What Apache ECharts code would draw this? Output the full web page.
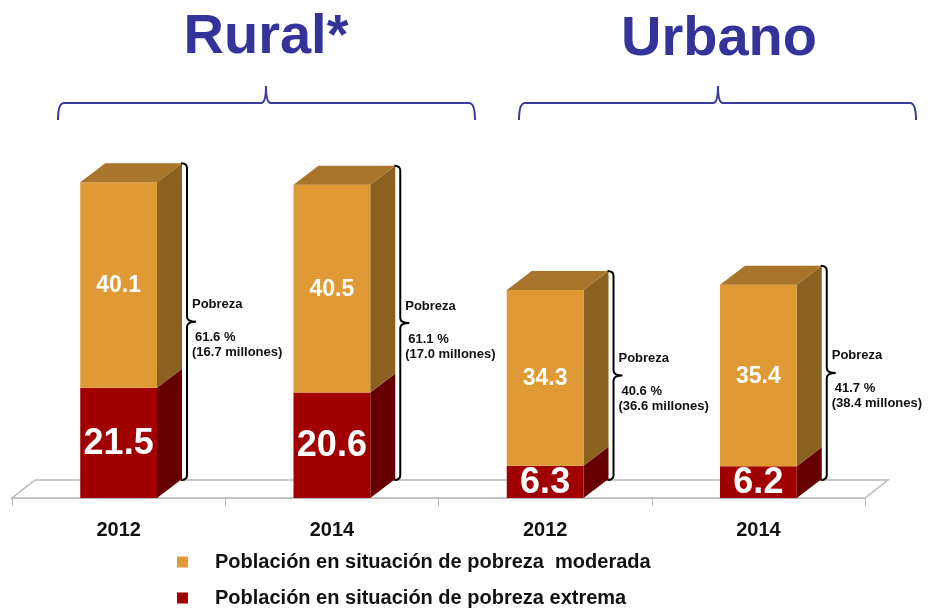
<!DOCTYPE html>
<html>
<head>
<meta charset="utf-8">
<script src="https://cdn.jsdelivr.net/npm/echarts@6/dist/echarts.min.js"></script>
<style>
  html, body { margin: 0; padding: 0; background: #fff; }
  #chart { width: 935px; height: 610px; }
</style>
</head>
<body>
<div id="chart"></div>
<script>
// data
const categories = ['2012', '2014', '2012', '2014'];
const extrema = [21.5, 20.6, 6.3, 6.2];
const moderada = [40.1, 40.5, 34.3, 35.4];
const pobrezaPct = [61.6, 61.1, 40.6, 41.7];
const millones = ['16.7', '17.0', '36.6', '38.4'];
const groupNames = ['Rural*', 'Urbano'];
const seriesNames = ['Población en situación de pobreza  moderada', 'Población en situación de pobreza extrema'];

const FONT = '"Liberation Sans", Arial, sans-serif';
const DX = 25, DY = -19; // fake 3d depth
const BAR = 0.36;

const orange = { front: '#E09A35', side: '#8B6122', top: '#A8752B' };
const red = { front: '#A00000', side: '#660000', top: '#800000' };

// one box segment of the stacked 3d column
function boxRenderer(colors, showTop, fontSize) {
    return function (params, api) {
        const i = api.value(0);
        const p0 = api.coord([i, api.value(1)]);
        const p1 = api.coord([i, api.value(2)]);
        const w = api.size([1, 0])[0] * BAR;
        const x0 = p0[0] - w / 2, x1 = p0[0] + w / 2;
        const yb = p0[1], yt = p1[1];
        const children = [
            { type: 'polygon', shape: { points: [[x1, yb], [x1 + DX, yb + DY], [x1 + DX, yt + DY], [x1, yt]] },
              style: { fill: colors.side } },
            { type: 'rect', shape: { x: x0, y: yt, width: w, height: yb - yt }, style: { fill: colors.front } }
        ];
        if (showTop) {
            children.push({ type: 'polygon', shape: { points: [[x0, yt], [x1, yt], [x1 + DX, yt + DY], [x0 + DX, yt + DY]] },
                style: { fill: colors.top } });
        }
        children.push({ type: 'text', style: {
            text: api.value(3).toFixed(1), x: p0[0], y: (yb + yt) / 2 + 1,
            align: 'center', verticalAlign: 'middle', fill: '#fff',
            fontSize: fontSize, fontWeight: 'bold', fontFamily: FONT } });
        return { type: 'group', children: children };
    };
}

// right-side curly bracket with the poverty total
function bracketRenderer(params, api) {
    const i = api.value(0);
    const base = api.coord([i, 0]);
    const top = api.coord([i, api.value(1)]);
    const w = api.size([1, 0])[0] * BAR;
    const x0 = base[0] + w / 2 + DX - 1;
    const yT = top[1] + DY, yB = base[1] - 18;
    const ym = (yT + yB) / 2;
    const xv = x0 + 6;
    const path = 'M' + x0 + ',' + yT + ' Q' + xv + ',' + yT + ' ' + xv + ',' + (yT + 5) +
        ' L' + xv + ',' + (ym - 5) + ' Q' + xv + ',' + ym + ' ' + (x0 + 15) + ',' + ym +
        ' Q' + xv + ',' + ym + ' ' + xv + ',' + (ym + 5) +
        ' L' + xv + ',' + (yB - 5) + ' Q' + xv + ',' + yB + ' ' + x0 + ',' + yB;
    const txt = (t, x, y) => ({ type: 'text', style: { text: t, x: x, y: y, align: 'left', verticalAlign: 'middle',
        fill: '#111', fontSize: 13, fontWeight: 'bold', fontFamily: FONT } });
    return { type: 'group', children: [
        { type: 'path', shape: { pathData: path }, style: { fill: 'none', stroke: '#000', lineWidth: 2 } },
        txt('Pobreza', x0 + 11, ym - 17),
        txt(pobrezaPct[i].toFixed(1) + ' %', x0 + 14, ym + 16),
        txt('(' + millones[i] + ' millones)', x0 + 11, ym + 31)
    ] };
}

function brace(x1, x2, xc, y) {
    return 'M' + x1 + ',' + (y + 17) + ' Q' + x1 + ',' + y + ' ' + (x1 + 6) + ',' + y +
        ' L' + (xc - 5) + ',' + y + ' Q' + xc + ',' + y + ' ' + xc + ',' + (y - 17) +
        ' Q' + xc + ',' + y + ' ' + (xc + 5) + ',' + y +
        ' L' + (x2 - 6) + ',' + y + ' Q' + x2 + ',' + y + ' ' + x2 + ',' + (y + 17);
}

// floor plane under the columns plus the group braces on top
function floorRenderer(params, api) {
    const cs = params.coordSys;
    const yb = cs.y + cs.height, xl = cs.x, xr = cs.x + cs.width;
    return { type: 'group', children: [
        { type: 'polygon', shape: { points: [[xl, yb], [xr, yb], [xr + DX - 2, yb - 18], [xl + DX - 2, yb - 18]] },
          style: { fill: '#fff', stroke: '#b8b8b8', lineWidth: 1.5 } },
        { type: 'path', shape: { pathData: brace(58, 475, 266, 103) }, style: { fill: 'none', stroke: '#3a3a9a', lineWidth: 2 } },
        { type: 'path', shape: { pathData: brace(519, 916, 718, 103) }, style: { fill: 'none', stroke: '#3a3a9a', lineWidth: 2 } }
    ] };
}

const chart = echarts.init(document.getElementById('chart'));

const option = {
    animation: false,
    grid: { left: 12, right: 70, top: 88, bottom: 112 },
    xAxis: {
        type: 'category',
        data: categories,
        axisLine: { lineStyle: { color: '#b8b8b8', width: 1.5 } },
        axisTick: { show: true, length: 8, lineStyle: { color: '#b8b8b8' } },
        axisLabel: { margin: 22, color: '#111', fontSize: 20, fontWeight: 'bold', fontFamily: FONT }
    },
    yAxis: { type: 'value', min: 0, max: 80, show: false, splitLine: { show: false } },
    legend: {
        orient: 'vertical',
        left: 177,
        top: 551,
        height: 80,
        padding: 0,
        itemWidth: 11,
        itemHeight: 11,
        itemGap: 14,
        icon: 'rect',
        data: seriesNames,
        textStyle: { color: '#111', fontSize: 20, lineHeight: 22, fontWeight: 'bold', fontFamily: FONT, padding: [0, 0, 0, 22] }
    },
    graphic: [
        { type: 'text', x: 266, y: 38, style: { text: groupNames[0], align: 'center', verticalAlign: 'middle',
            fill: '#333399', fontSize: 56, fontWeight: 'bold', fontFamily: FONT } },
        { type: 'text', x: 719, y: 40, style: { text: groupNames[1], align: 'center', verticalAlign: 'middle',
            fill: '#333399', fontSize: 56, fontWeight: 'bold', fontFamily: FONT } }
    ],
    series: [
        {
            type: 'custom', name: 'floor', z: 1, silent: true,
            renderItem: floorRenderer,
            data: [[0, 0]]
        },
        {
            type: 'custom', name: seriesNames[1], z: 3,
            itemStyle: { color: red.front },
            renderItem: boxRenderer(red, false, 36),
            encode: { x: 0, y: [1, 2] },
            data: extrema.map((v, i) => [i, 0, v, v])
        },
        {
            type: 'custom', name: seriesNames[0], z: 3,
            itemStyle: { color: orange.front },
            renderItem: boxRenderer(orange, true, 23),
            encode: { x: 0, y: [1, 2] },
            data: moderada.map((v, i) => [i, extrema[i], extrema[i] + v, v])
        },
        {
            type: 'custom', name: 'brackets', z: 4, silent: true,
            renderItem: bracketRenderer,
            encode: { x: 0, y: 1 },
            data: moderada.map((v, i) => [i, extrema[i] + v])
        }
    ]
};

chart.setOption(option);
</script>
</body>
</html>
